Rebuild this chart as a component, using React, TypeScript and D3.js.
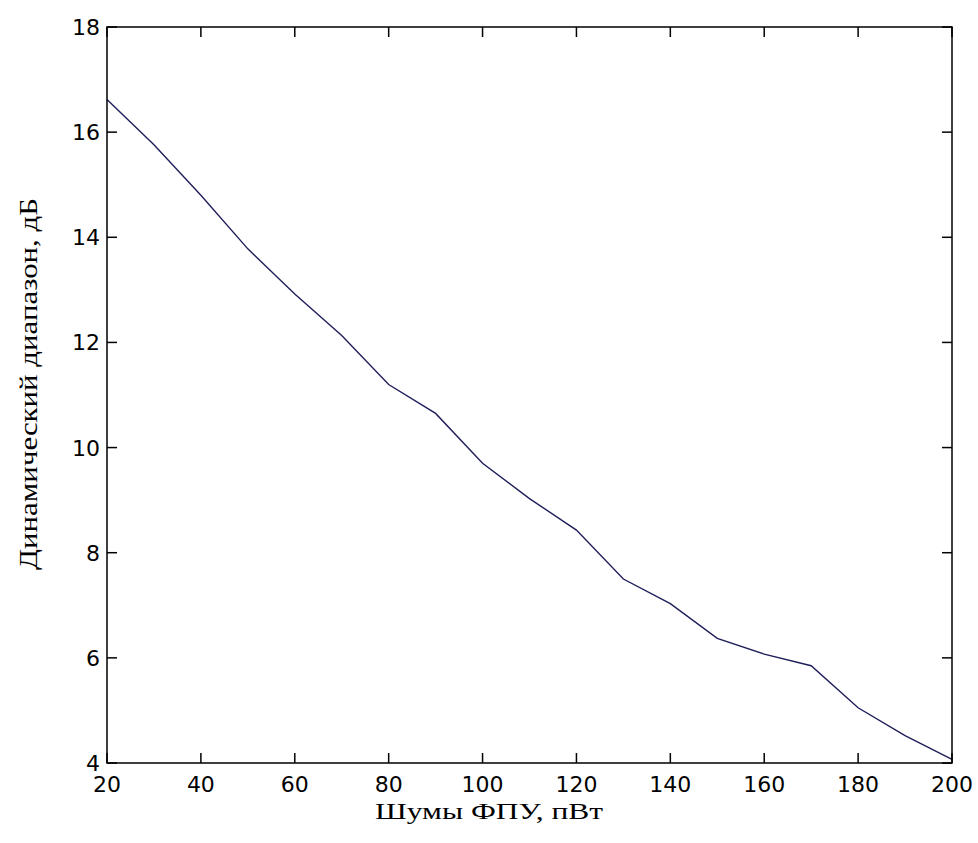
import React, { useEffect, useRef } from "react";
import * as d3 from "d3";

const noise: number[] = [20, 30, 40, 50, 60, 70, 80, 90, 100, 110, 120, 130, 140, 150, 160, 170, 180, 190, 200];
const dynRange: number[] = [16.62, 15.76, 14.8, 13.78, 12.92, 12.13, 11.2, 10.65, 9.7, 9.03, 8.43, 7.5, 7.03, 6.37, 6.07, 5.85, 5.05, 4.52, 4.07];
const xTicks: number[] = [20, 40, 60, 80, 100, 120, 140, 160, 180, 200];
const yTicks: number[] = [4, 6, 8, 10, 12, 14, 16, 18];
const xLabel = "Шумы ФПУ, пВт";
const yLabel = "Динамический диапазон, дБ";

const W = 978, H = 843;
const M = { left: 107, right: 952, top: 27, bottom: 763 };

export default function App() {
  const ref = useRef<SVGSVGElement>(null);
  useEffect(() => {
    const svg = d3.select(ref.current);
    svg.selectAll("*").remove();
    const x = d3.scaleLinear().domain([20, 200]).range([M.left, M.right]);
    const y = d3.scaleLinear().domain([4, 18]).range([M.bottom, M.top]);
    svg.append("rect").attr("width", W).attr("height", H).attr("fill", "#fff");

    const line = d3.line<number>().x((_, i) => x(noise[i])).y((d) => y(d));
    svg.append("path").datum(dynRange).attr("d", line).attr("fill", "none")
      .attr("stroke", "#1e1e5a").attr("stroke-width", 1.4);

    const tl = 10;
    const g = svg.append("g").attr("stroke", "#000").attr("stroke-width", 1.5);
    g.append("rect").attr("x", M.left).attr("y", M.top).attr("width", M.right - M.left)
      .attr("height", M.bottom - M.top).attr("fill", "none");
    xTicks.forEach((t) => {
      g.append("line").attr("x1", x(t)).attr("x2", x(t)).attr("y1", M.bottom).attr("y2", M.bottom - tl);
      g.append("line").attr("x1", x(t)).attr("x2", x(t)).attr("y1", M.top).attr("y2", M.top + tl);
    });
    yTicks.forEach((t) => {
      g.append("line").attr("x1", M.left).attr("x2", M.left + tl).attr("y1", y(t)).attr("y2", y(t));
      g.append("line").attr("x1", M.right).attr("x2", M.right - tl).attr("y1", y(t)).attr("y2", y(t));
    });

    const tf = "'DejaVu Sans', Verdana, sans-serif";
    svg.append("g").selectAll("text").data(xTicks).join("text")
      .attr("x", (d) => x(d)).attr("y", 792).attr("text-anchor", "middle")
      .attr("font-family", tf).attr("font-size", 22).attr("fill", "#000").text((d) => String(d));
    svg.append("g").selectAll("text").data(yTicks).join("text")
      .attr("x", M.left - 7).attr("y", (d) => y(d) + 8).attr("text-anchor", "end")
      .attr("font-family", tf).attr("font-size", 22).attr("fill", "#000").text((d) => String(d));

    const sf = "'Liberation Serif', 'Times New Roman', serif";
    svg.append("text").attr("x", 375).attr("y", 819).attr("text-anchor", "start")
      .attr("font-family", sf).attr("font-size", 24).attr("fill", "#000")
      .attr("textLength", 228).attr("lengthAdjust", "spacingAndGlyphs").text(xLabel);
    svg.append("text").attr("transform", `translate(37,384) rotate(-90)`)
      .attr("text-anchor", "middle").attr("font-family", sf).attr("font-size", 26)
      .attr("textLength", 372).attr("lengthAdjust", "spacingAndGlyphs")
      .attr("fill", "#000").text(yLabel);
  }, []);
  return (
    <svg ref={ref} width={W} height={H} style={{ position: "absolute", left: 0, top: 0 }} />
  );
}
